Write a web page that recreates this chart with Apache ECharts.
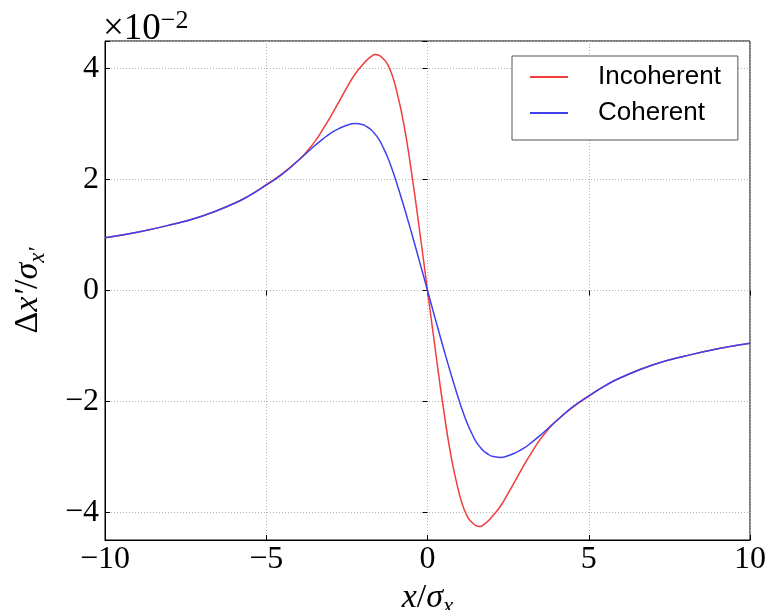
<!DOCTYPE html>
<html>
<head>
<meta charset="utf-8">
<script src="https://cdn.jsdelivr.net/npm/echarts@6/dist/echarts.min.js"></script>
<style>
  html, body { margin: 0; padding: 0; background: #fff; }
  #chart { width: 765px; height: 610px; }
</style>
</head>
<body>
<div id="chart"></div>
<script>
// Normalised position x/sigma_x (denser sampling around the extrema)
const xs = [-10, -9, -8, -7, -6, -5.5, -5, -4.5, -4, -3.75, -3.5, -3.25, -3, -2.75, -2.5, -2.25,
            -2, -1.875, -1.75, -1.625, -1.5, -1.375, -1.25, -1.125, -1, -0.75, -0.5, -0.25,
            0, 0.25, 0.5, 0.75, 1, 1.125, 1.25, 1.375, 1.5, 1.625, 1.75, 1.875, 2,
            2.25, 2.5, 2.75, 3, 3.25, 3.5, 3.75, 4, 4.5, 5, 5.5, 6, 7, 8, 9, 10];

// Kick in units of 1e-2
const incoherent = [0.95, 1.05, 1.18, 1.34, 1.57, 1.72, 1.91, 2.11, 2.35, 2.50, 2.68, 2.90, 3.14, 3.40, 3.66, 3.90,
                    4.08, 4.16, 4.22, 4.255, 4.24, 4.18, 4.09, 3.93, 3.70, 3.05, 2.15, 1.10,
                    0, -1.10, -2.15, -3.05, -3.70, -3.93, -4.09, -4.18, -4.24, -4.255, -4.22, -4.16, -4.08,
                    -3.90, -3.66, -3.40, -3.14, -2.90, -2.68, -2.50, -2.35, -2.11, -1.91, -1.72, -1.57, -1.34, -1.18, -1.05, -0.95];
const coherent = [0.95, 1.05, 1.18, 1.34, 1.57, 1.72, 1.90, 2.10, 2.35, 2.48, 2.61, 2.73, 2.84, 2.92, 2.98, 3.01,
                  2.99, 2.95, 2.90, 2.82, 2.72, 2.58, 2.42, 2.23, 2.02, 1.55, 1.05, 0.53,
                  0, -0.53, -1.05, -1.55, -2.02, -2.23, -2.42, -2.58, -2.72, -2.82, -2.90, -2.95, -2.99,
                  -3.01, -2.98, -2.92, -2.84, -2.73, -2.61, -2.48, -2.35, -2.10, -1.90, -1.72, -1.57, -1.34, -1.18, -1.05, -0.95];

const seriesNames = ['Incoherent', 'Coherent'];
const xTicks = [-10, -5, 0, 5, 10];
const yTicks = [-4, -2, 0, 2, 4];

const SERIF = '"Liberation Serif", "DejaVu Serif", serif';
const SANS = '"Liberation Sans", Arial, sans-serif';

function pairs(ys) { return xs.map((x, i) => [x, ys[i]]); }
function fmt(v) {
  return v < 0 ? '\u2212' + Math.abs(v) : String(v);
}

const mathRich = {
  i: { fontFamily: SERIF, fontStyle: 'italic', fontSize: 34, lineHeight: 38, verticalAlign: 'top', color: '#000' },
  n: { fontFamily: SERIF, fontSize: 34, lineHeight: 38, verticalAlign: 'top', color: '#000' },
  s: { fontFamily: SERIF, fontStyle: 'italic', fontSize: 23, lineHeight: 21, verticalAlign: 'bottom', color: '#000' }
};

const chart = echarts.init(document.getElementById('chart'), null, { renderer: 'canvas' });

const gridLine = { show: true, lineStyle: { color: '#b4b4b4', type: [1, 2], width: 1 } };
const tick = { show: true, inside: true, length: 5, lineStyle: { color: '#000', width: 1 } };

chart.setOption({
  animation: false,
  backgroundColor: '#fff',
  grid: {
    left: 105, right: 15, top: 41, bottom: 70,
    containLabel: false, outerBoundsMode: 'none',
    show: true, borderColor: '#000', borderWidth: 1, backgroundColor: 'transparent'
  },
  legend: {
    data: seriesNames,
    orient: 'vertical',
    left: 512, top: 56,
    padding: [8, 17, 14, 18],
    itemGap: 10,
    itemWidth: 38, itemHeight: 2,
    icon: 'rect',
    backgroundColor: '#fff',
    borderColor: '#555', borderWidth: 1,
    textStyle: { fontFamily: SANS, fontSize: 26, color: '#000', padding: [0, 0, 0, 25] }
  },
  xAxis: [{
    type: 'value', min: -10, max: 10, interval: 5,
    axisLine: { show: true, onZero: false, lineStyle: { color: '#000' } },
    axisTick: tick,
    splitLine: gridLine,
    axisLabel: { fontFamily: SERIF, fontSize: 32, color: '#000', margin: 4,
      formatter: v => xTicks.includes(v) ? fmt(v) : '' },
    name: '{i|x}{n|/}{i|\u03c3}{s|x}',
    nameLocation: 'middle', nameGap: 40,
    nameTextStyle: { rich: mathRich }
  }, {
    type: 'value', min: -10, max: 10, interval: 5, position: 'top',
    axisLine: { show: false }, axisTick: tick, axisLabel: { show: false }, splitLine: { show: false }
  }],
  yAxis: [{
    type: 'value', min: -4.5, max: 4.5,
    axisLine: { show: true, onZero: false, lineStyle: { color: '#000' } },
    axisTick: tick,
    splitLine: gridLine,
    axisLabel: { fontFamily: SERIF, fontSize: 32, color: '#000', margin: 6,
      formatter: v => yTicks.includes(v) ? fmt(v) : '' },
    name: '{n|\u0394}{i|x\u2032}{n|/}{i|\u03c3}{s|x\u2032}',
    nameLocation: 'middle', nameGap: 56, nameRotate: 90,
    nameTextStyle: { rich: mathRich }
  }, {
    type: 'value', min: -4.5, max: 4.5, position: 'right',
    axisLine: { show: false }, axisTick: tick, axisLabel: { show: false }, splitLine: { show: false }
  }],
  graphic: [{
    type: 'text', left: 103, top: 8,
    style: {
      text: '{a|\u00d710}{b|\u22122}',
      rich: {
        a: { fontFamily: SERIF, fontSize: 37, lineHeight: 40, verticalAlign: 'bottom', fill: '#000' },
        b: { fontFamily: SERIF, fontSize: 26, lineHeight: 20, verticalAlign: 'top', fill: '#000' }
      }
    }
  }],
  series: [{
    name: seriesNames[0], type: 'line', data: pairs(incoherent),
    smooth: 0.5, showSymbol: false, symbol: 'none',
    lineStyle: { color: '#f03c3c', width: 1.5 }, itemStyle: { color: '#f03c3c' }
  }, {
    name: seriesNames[1], type: 'line', data: pairs(coherent),
    smooth: 0.5, showSymbol: false, symbol: 'none',
    lineStyle: { color: '#4040f0', width: 1.5 }, itemStyle: { color: '#4040f0' }
  }]
});
</script>
</body>
</html>
